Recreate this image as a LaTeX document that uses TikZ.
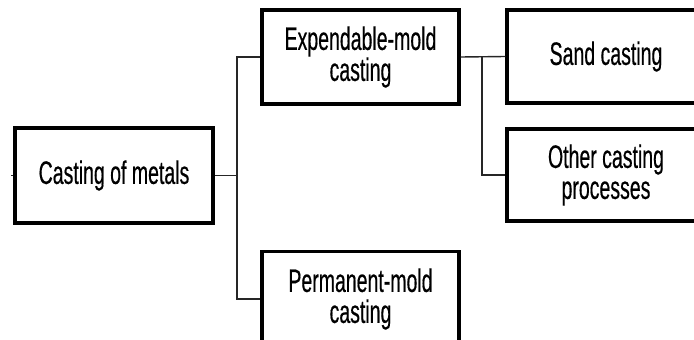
\documentclass[tikz,border=0pt]{standalone}
\usepackage{fontspec}
\setmainfont{Liberation Sans}[FakeStretch=0.6,FakeBold=0.4]
\begin{document}
\begin{tikzpicture}[x=1pt,y=-1pt,
  box/.style={draw=black, line width=3.4pt, fill=white, inner sep=0pt,
    minimum width=197pt, align=center, text=black,
    font=\fontsize{32.5pt}{31pt}\selectfont},
  link/.style={draw=black!85, line width=1.4pt}]
\useasboundingbox (0,0) rectangle (694,340);
\clip (0,0) rectangle (694,340);
\node[box, minimum width=198pt, minimum height=95pt] (metals) at (114,175.5) {Casting of metals};
\node[box, minimum height=94pt] (exp) at (360.5,57) {Expendable-mold\\casting};
\node[box, minimum height=95pt] (perm) at (360.5,299) {Permanent-mold\\casting};
\node[box, minimum width=198pt, minimum height=93pt] (sand) at (606,56.5) {Sand casting};
\node[box, minimum width=198pt, minimum height=92pt] (other) at (606,175) {Other casting\\processes};
\coordinate (stub) at (11,175.5);
\coordinate (t1) at (237,175.5);
\coordinate (t2) at (482,57);
\draw[link] (stub) -- (metals.west);
\draw[link] (metals.east) -- (t1);
\draw[link] (exp.west) -| (t1) |- (perm.west);
\draw[link] (exp.east) -- (sand.west);
\draw[link] (t2) |- (other.west);
\end{tikzpicture}
\end{document}
